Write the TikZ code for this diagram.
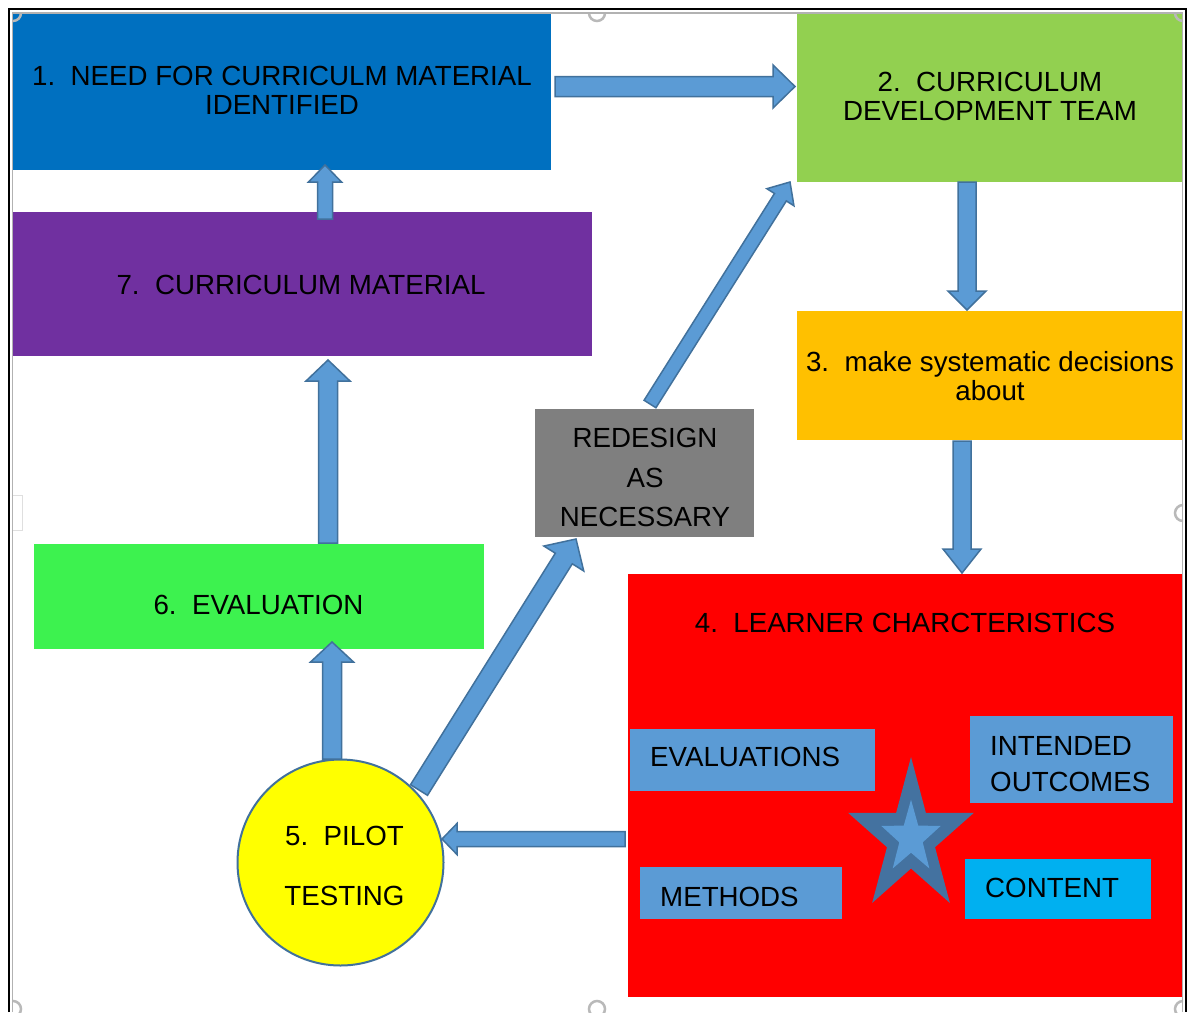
\documentclass[tikz,border=0pt]{standalone}
\usepackage{fontspec}
\setmainfont{Liberation Sans}
\usetikzlibrary{calc}
\definecolor{cBlue}{HTML}{0070C0}
\definecolor{cGreen}{HTML}{92D050}
\definecolor{cPurple}{HTML}{7030A0}
\definecolor{cOrange}{HTML}{FFC000}
\definecolor{cGray}{HTML}{7F7F7F}
\definecolor{cLime}{HTML}{3DF24F}
\definecolor{cRed}{HTML}{FF0000}
\definecolor{cSteel}{HTML}{5B9BD5}
\definecolor{cCyan}{HTML}{00B0F0}
\definecolor{cYellow}{HTML}{FFFF00}
\definecolor{cEdge}{HTML}{41719C}
\definecolor{cStar}{HTML}{4472A0}
\newcommand{\dfont}{\fontsize{27.7}{29}\selectfont}
% start, end, shaft width, head width, head length
\newcommand{\blockarrow}[5]{%
  \coordinate (ba-h) at ($(#2)!#5!(#1)$);
  \filldraw[barrow] ($(#1)!#3/2!90:(#2)$) -- ($(ba-h)!#3/2!90:(#2)$) -- ($(ba-h)!#4/2!90:(#2)$) -- (#2) -- ($(ba-h)!#4/2!-90:(#2)$) -- ($(ba-h)!#3/2!-90:(#2)$) -- ($(#1)!#3/2!-90:(#2)$) -- cycle;
}
\begin{document}
\begin{tikzpicture}[x=1pt,y=-1pt,
  box/.style={rectangle, inner sep=0pt, draw=none},
  txt/.style={inner sep=0pt, align=center, font=\dfont, text=black},
  inbox/.style={rectangle, anchor=north west, inner ysep=0pt, inner xsep=20pt, align=left, font=\dfont, text=black},
  barrow/.style={fill=cSteel, draw=cEdge, line width=1.5pt, line join=miter},
  handle/.style={draw=gray!55, line width=2.5pt}]
\fill[white] (0,0) rectangle (1190,1012);
\useasboundingbox (0,0) rectangle (1190,1012);

% boxes
\node[box, fill=cBlue, minimum width=539pt, minimum height=156pt] (n1) at (281.5,92) {};
\node[box, fill=cGreen, minimum width=385pt, minimum height=168pt] (n2) at (989.5,98) {};
\node[box, fill=cPurple, minimum width=580pt, minimum height=144pt] (n7) at (302,284) {};
\node[box, fill=cOrange, minimum width=385pt, minimum height=129pt] (n3) at (989.5,375.5) {};
\node[box, fill=cGray, minimum width=219pt, minimum height=128pt] (nR) at (644.5,473) {};
\node[box, fill=cLime, minimum width=450pt, minimum height=105pt] (n6) at (259,596.5) {};
\node[box, fill=cRed, minimum width=554pt, minimum height=423pt] (n4) at (905,785.5) {};

% texts
\node[txt] (t1) at (282,90.5) {1.\ \ NEED FOR CURRICULM MATERIAL\\IDENTIFIED};
\node[txt] (t2) at (990,96.5) {2.\ \ CURRICULUM\\DEVELOPMENT TEAM};
\node[txt] (t7) at (301,285) {7.\ \ CURRICULUM MATERIAL};
\node[txt] (t3) at (990,376) {3.\ \ make systematic decisions\\about};
\node[txt, font=\fontsize{27.7}{39.5}\selectfont] (tR) at (645,477.5) {REDESIGN\\AS\\NECESSARY};
\node[txt] (t6) at (258.5,605) {6.\ \ EVALUATION};
\node[txt] (t4) at (905,623) {4.\ \ LEARNER CHARCTERISTICS};

% inner boxes
\node[inbox, fill=cSteel, text width=205pt, minimum height=62pt, text depth=6pt] (ev) at (630,729) {EVALUATIONS};
\node[inbox, fill=cSteel, text width=163pt, minimum height=87pt, font=\fontsize{27.7}{36}\selectfont, text height=27pt] (io) at (970,716) {INTENDED\\OUTCOMES};
\node[inbox, fill=cSteel, text width=162pt, minimum height=52pt, text height=27.5pt] (me) at (640,867) {METHODS};
\node[inbox, fill=cCyan, text width=146pt, minimum height=60pt, text depth=2pt] (co) at (965,859) {CONTENT};

% star
\begin{scope}[shift={(911,837.7)}, xscale=0.82]
\fill[cStar] (90:80.7pt) -- (126:30.8pt) -- (162:80.7pt) -- (198:30.8pt) -- (234:80.7pt) -- (270:30.8pt) -- (306:80.7pt) -- (342:30.8pt) -- (18:80.7pt) -- (54:30.8pt) -- cycle;
\fill[cSteel] (90:38pt) -- (126:15pt) -- (162:38pt) -- (198:15pt) -- (234:38pt) -- (270:15pt) -- (306:38pt) -- (342:15pt) -- (18:38pt) -- (54:15pt) -- cycle;
\end{scope}

% pilot circle
\node[circle, fill=cYellow, draw=cEdge, line width=2pt, minimum size=206pt, inner sep=0pt] (n5) at (340.5,862.5) {};
\node[txt, font=\fontsize{27.7}{60}\selectfont] (t5) at (344.5,866) {5.\ \ PILOT\\TESTING};

% arrow end points
\coordinate (a1s) at (555,86.5);  \coordinate (a1e) at (795,86.5);
\coordinate (a2s) at (967,182);   \coordinate (a2e) at (967,310);
\coordinate (a3s) at (962,441);   \coordinate (a3e) at (962,573);
\coordinate (a4s) at (625,839);   \coordinate (a4e) at (442,839);
\coordinate (a5s) at (332,759);   \coordinate (a5e) at (332,642);
\coordinate (a6s) at (328,543);   \coordinate (a6e) at (328,360);
\coordinate (a7s) at (325,219);   \coordinate (a7e) at (325,165);
\coordinate (a8s) at (419,790);   \coordinate (a8e) at (576,539);
\coordinate (a9s) at (650,404);   \coordinate (a9e) at (790,182);

\blockarrow{a1s}{a1e}{20pt}{43pt}{22pt}
\blockarrow{a2s}{a2e}{18pt}{38pt}{19pt}
\blockarrow{a3s}{a3e}{18pt}{38pt}{24pt}
\blockarrow{a4s}{a4e}{15pt}{31pt}{15pt}
\blockarrow{a5s}{a5e}{19pt}{43pt}{20pt}
\blockarrow{a6s}{a6e}{19pt}{44pt}{21pt}
\blockarrow{a7s}{a7e}{15pt}{33pt}{17pt}
\blockarrow{a8s}{a8e}{20pt}{47pt}{23pt}
\blockarrow{a9s}{a9e}{14pt}{32pt}{18pt}

% frame and selection handles
\begin{scope}
\clip (12,13) rectangle (1183,1012);
\foreach \hx/\hy in {597/13, 1183/513, 597/1009, 13/13, 1183/13, 13/1009, 1183/1009}
  \draw[handle] (\hx,\hy) circle[radius=8pt];
\end{scope}
\draw[gray!25, line width=1pt] (12,495) rectangle (22,530);
\draw[gray!60, line width=1.5pt] (12.5,1012) -- (12.5,13) -- (1182.5,13) -- (1182.5,1012);
\draw[black, line width=2.5pt] (9,1012) -- (9,9) -- (1186,9) -- (1186,1012);
\end{tikzpicture}
\end{document}
